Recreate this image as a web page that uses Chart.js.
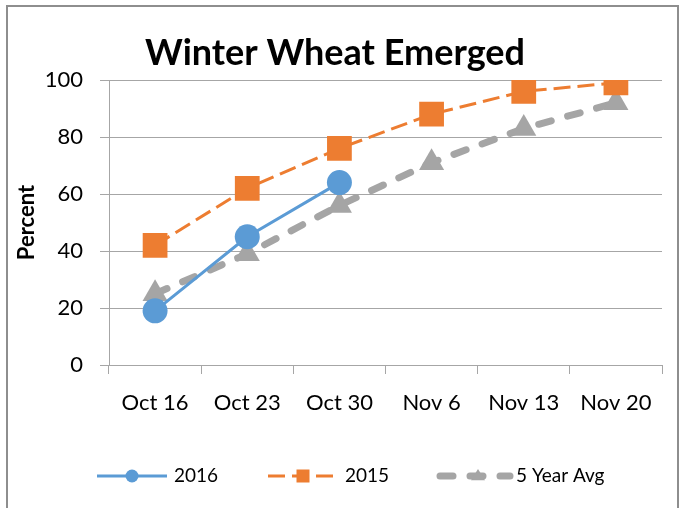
<!DOCTYPE html>
<html>
<head>
<meta charset="utf-8">
<script src="https://cdn.jsdelivr.net/npm/chart.js@4"></script>
<style>
  html, body { margin: 0; padding: 0; background: #fff; }
  #wrap { width: 684px; height: 508px; }
</style>
</head>
<body>
<div id="wrap"><canvas id="lineChart" width="684" height="508"></canvas></div>
<script>
// Dados do gráfico
const weeks = ['Oct 16', 'Oct 23', 'Oct 30', 'Nov 6', 'Nov 13', 'Nov 20'];
const y2016 = [19, 45, 64, null, null, null];
const y2015 = [42, 62, 76, 88, 96, 99];
const avg5 = [25, 39, 56, 71, 83, 92];
const yTicks = [0, 20, 40, 60, 80, 100];

const FONT = 'Lato, "Open Sans", sans-serif';
const BLUE = '#5B9BD5', ORANGE = '#ED7D31', GRAY = '#A5A5A5';

// Moldura e legenda desenhadas à mão
const frameAndLegend = {
    id: 'frameAndLegend',
    afterDraw(chart) {
        const ctx = chart.ctx;
        ctx.save();
        ctx.strokeStyle = '#8e8e8e';
        ctx.lineWidth = 2;
        ctx.strokeRect(7, 6, 671, 520);

        const y = 476;
        const items = [
            { x0: 97, x1: 167, mx: 132, tx: 174, ds: chart.data.datasets[0], marker: 'circle', r: 6.5 },
            { x0: 268, x1: 338, mx: 303, tx: 345, ds: chart.data.datasets[1], marker: 'rect', r: 6.5 },
            { x0: 440, x1: 510, mx: 478, tx: 516, ds: chart.data.datasets[2], marker: 'triangle', r: 7 }
        ];
        items.forEach(it => {
            ctx.save();
            ctx.strokeStyle = it.ds.borderColor;
            ctx.lineWidth = it.ds.borderWidth;
            ctx.lineCap = it.ds.borderCapStyle || 'butt';
            ctx.setLineDash(it.ds.borderDash || []);
            ctx.beginPath();
            ctx.moveTo(it.x0, y);
            ctx.lineTo(it.x1, y);
            ctx.stroke();
            ctx.setLineDash([]);
            ctx.fillStyle = it.ds.backgroundColor;
            ctx.beginPath();
            if (it.marker === 'circle') {
                ctx.arc(it.mx, y, it.r, 0, Math.PI * 2);
            } else if (it.marker === 'rect') {
                ctx.rect(it.mx - it.r, y - it.r, it.r * 2, it.r * 2);
            } else {
                ctx.moveTo(it.mx, y - it.r);
                ctx.lineTo(it.mx + it.r, y + it.r * 0.6);
                ctx.lineTo(it.mx - it.r, y + it.r * 0.6);
                ctx.closePath();
            }
            ctx.fill();
            ctx.restore();
            ctx.fillStyle = '#000';
            ctx.font = '19px ' + FONT;
            ctx.textBaseline = 'middle';
            ctx.textAlign = 'left';
            ctx.fillText(it.ds.label, it.tx, y);
        });
        ctx.restore();
    }
};

const ctxLine = document.getElementById('lineChart').getContext('2d');
const lineChart = new Chart(ctxLine, {
    type: 'line',
    data: {
        labels: weeks,
        datasets: [{
            label: '2016',
            data: y2016,
            borderColor: BLUE,
            backgroundColor: BLUE,
            borderWidth: 3,
            pointStyle: 'circle',
            pointRadius: 12.5,
            pointBorderWidth: 0
        }, {
            label: '2015',
            data: y2015,
            borderColor: ORANGE,
            backgroundColor: ORANGE,
            borderWidth: 3,
            borderDash: [17, 7],
            pointStyle: 'rect',
            pointRadius: 17.5,
            pointBorderWidth: 0
        }, {
            label: '5 Year Avg',
            data: avg5,
            borderColor: GRAY,
            backgroundColor: GRAY,
            borderWidth: 7,
            borderDash: [13, 17],
            borderCapStyle: 'round',
            pointStyle: 'triangle',
            pointRadius: 14.5,
            pointBorderWidth: 0
        }]
    },
    options: {
        responsive: false,
        animation: false,
        spanGaps: false,
        layout: { padding: { left: 8, right: 22, top: 0, bottom: 60 } },
        plugins: {
            legend: { display: false },
            tooltip: { enabled: false },
            title: {
                display: true,
                text: 'Winter Wheat Emerged',
                color: '#000',
                font: { family: FONT, size: 36, weight: 'bold', lineHeight: 1.2 },
                padding: { top: 32, bottom: 4.8 }
            }
        },
        scales: {
            x: {
                offset: true,
                grid: { offset: true, drawOnChartArea: false, drawTicks: true, tickLength: 9, color: '#a6a6a6' },
                border: { color: '#a6a6a6' },
                ticks: { color: '#000', font: { family: FONT, size: 22 }, padding: 16, maxRotation: 0, autoSkip: false },
                afterFit(scale) { scale.height = 83; }
            },
            y: {
                min: 0,
                max: 100,
                afterBuildTicks(scale) { scale.ticks = yTicks.map(v => ({ value: v })); },
                grid: { color: '#a6a6a6', tickLength: 9 },
                border: { color: '#a6a6a6' },
                ticks: { color: '#000', font: { family: FONT, size: 22 }, padding: 17 },
                title: {
                    display: true,
                    text: 'Percent',
                    color: '#000',
                    font: { family: FONT, size: 22, weight: 'bold' },
                    padding: { top: 6, bottom: 0 }
                },
                afterFit(scale) { scale.width = 101; }
            }
        }
    },
    plugins: [frameAndLegend]
});
</script>
</body>
</html>
